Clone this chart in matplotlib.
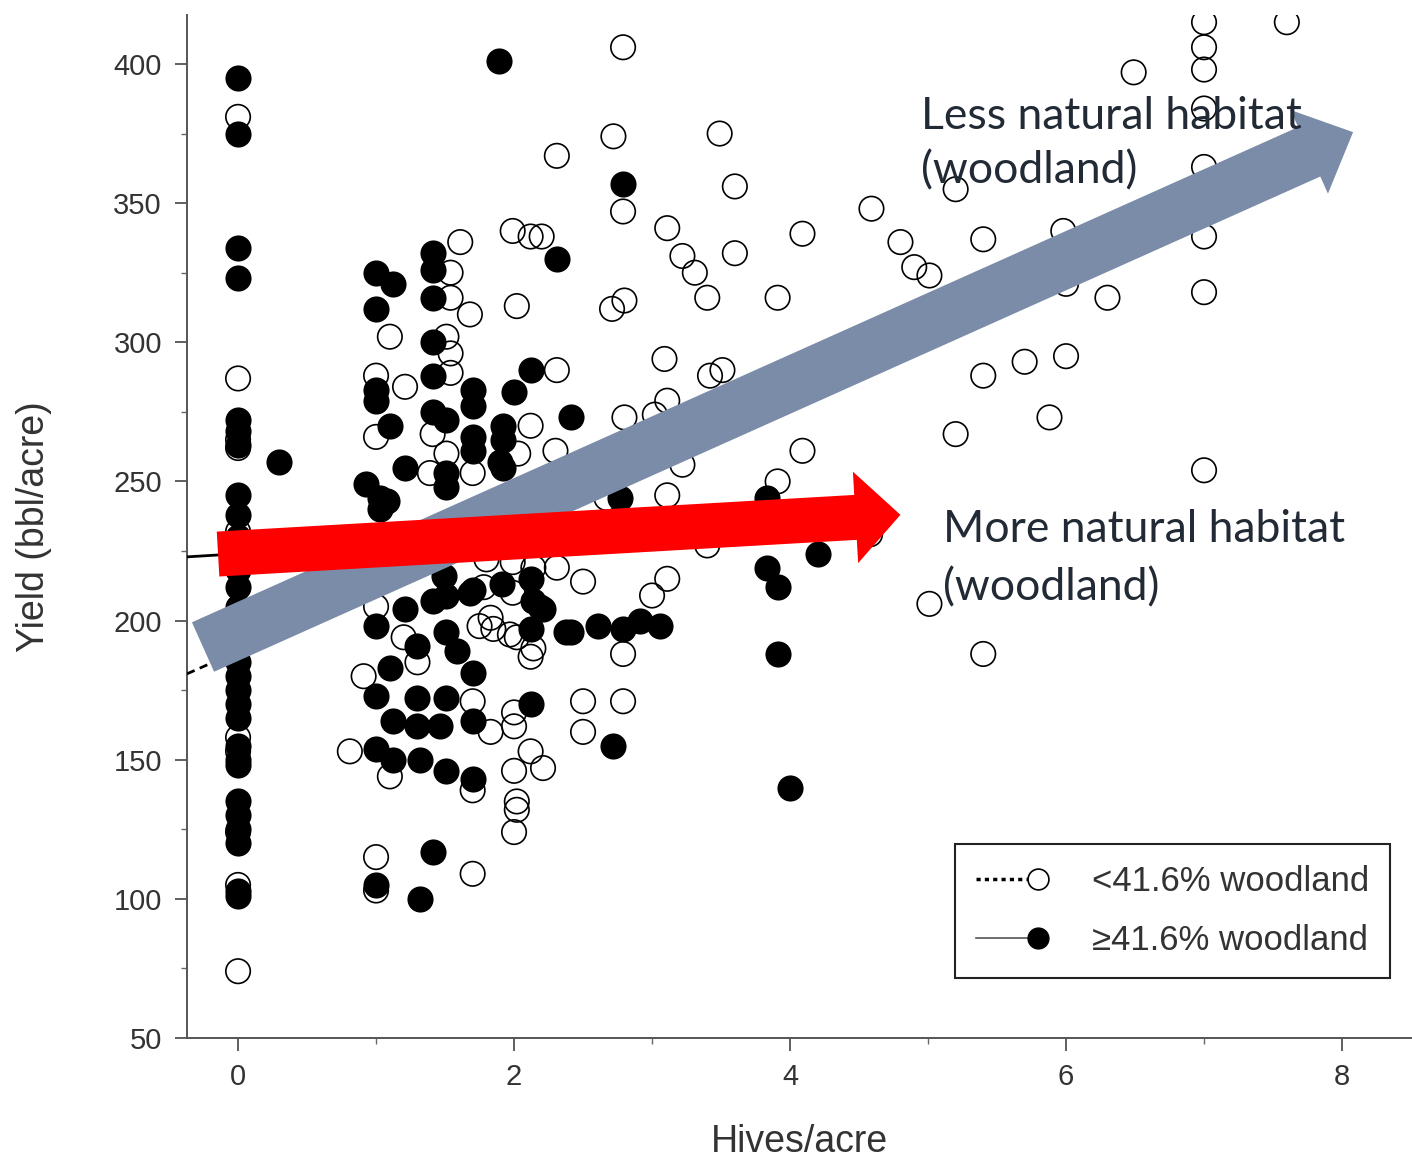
import numpy as np
import matplotlib
matplotlib.use("Agg")
import matplotlib.pyplot as plt
from matplotlib.lines import Line2D
from matplotlib.legend_handler import HandlerLine2DCompound
from matplotlib.ticker import MultipleLocator

# open circles: <41.6% woodland (hives/acre, yield)
open_pts = [
    (0, 381), (0, 287), (0, 265), (0, 262), (0, 232), (0, 195), (0, 190), (0, 158),
    (0, 153), (0, 124), (0, 105), (0, 74),
    (0.81, 153), (0.91, 180),
    (1.0, 115), (1.0, 103), (1.1, 144), (1.0, 205), (1.2, 194), (1.3, 185), (1.1, 302),
    (1.0, 288), (1.21, 284), (1.0, 266),
    (1.61, 336), (1.54, 325), (1.54, 316), (1.68, 310), (1.51, 302), (1.54, 296),
    (1.54, 289), (1.41, 267), (1.51, 260), (1.39, 253), (1.70, 253), (1.70, 171),
    (1.70, 139), (1.70, 109), (1.75, 198), (1.85, 197), (1.83, 160), (1.80, 222),
    (1.78, 212), (1.83, 201),
    (1.99, 340), (2.12, 338), (2.20, 338), (2.02, 313), (2.31, 290), (2.12, 270),
    (2.03, 260), (2.30, 261), (2.02, 194), (2.12, 187), (2.0, 167), (2.0, 162),
    (2.12, 153), (2.21, 147), (2.0, 146), (2.02, 135), (2.02, 132), (2.0, 124),
    (1.99, 221), (2.14, 219), (2.31, 219), (1.99, 210), (1.97, 195), (2.14, 190),
    (2.31, 367),
    (2.50, 214), (2.50, 171), (2.50, 160), (2.79, 171), (2.79, 188), (2.67, 244),
    (2.80, 273), (2.71, 312), (2.80, 315), (2.79, 406), (2.72, 374), (2.79, 347),
    (3.11, 341), (3.22, 331), (3.31, 325), (3.40, 316), (3.09, 294), (3.11, 279),
    (3.02, 274), (3.22, 256), (3.11, 245), (3.11, 215), (3.0, 209), (3.40, 227),
    (3.49, 375), (3.60, 356), (3.60, 332), (3.42, 288), (3.51, 290), (3.91, 316),
    (4.09, 339), (4.09, 282), (4.09, 261), (3.91, 250), (4.59, 348), (4.80, 336),
    (4.90, 327), (5.01, 324), (4.58, 231), (5.01, 206),
    (5.20, 355), (5.40, 337), (5.20, 267), (5.40, 288), (5.70, 293), (6.0, 295),
    (5.88, 273), (5.40, 188), (5.98, 340), (6.0, 321), (6.30, 316), (6.49, 397),
    (7.0, 415), (7.0, 406), (7.0, 398), (7.0, 384), (7.0, 363), (7.0, 338),
    (7.0, 318), (7.0, 254), (7.6, 415),
]

# filled circles: >=41.6% woodland
filled_pts = [
    (0, 395), (0, 375), (0, 334), (0, 323), (0, 272), (0, 268), (0, 263), (0, 245),
    (0, 238), (0, 230), (0, 225), (0, 218), (0, 212), (0, 205), (0, 198), (0, 185),
    (0, 180), (0, 175), (0, 170), (0, 165), (0, 155), (0, 150), (0, 148), (0, 135),
    (0, 130), (0, 125), (0, 120), (0, 103), (0, 101),
    (0.30, 257),
    (1.0, 325), (1.12, 321), (1.0, 312), (1.0, 283), (1.0, 279), (1.1, 270),
    (1.21, 255), (0.93, 249), (1.03, 244), (1.08, 243), (1.03, 240), (1.0, 198),
    (1.21, 204), (1.30, 191), (1.10, 183), (1.0, 173), (1.30, 172), (1.12, 164),
    (1.30, 162), (1.0, 154), (1.12, 150), (1.32, 150), (1.0, 105), (1.32, 100),
    (1.41, 117),
    (1.41, 332), (1.41, 326), (1.41, 316), (1.41, 300), (1.41, 288), (1.70, 283),
    (1.70, 277), (1.41, 275), (1.51, 272), (1.70, 266), (1.70, 261), (1.51, 253),
    (1.51, 248), (1.49, 216), (1.41, 207), (1.51, 196), (1.59, 189), (1.68, 210),
    (1.70, 181), (1.51, 172), (1.46, 162), (1.70, 164), (1.51, 146), (1.70, 143),
    (1.51, 209),
    (2.31, 330), (2.12, 290), (2.0, 282), (2.41, 273), (1.92, 270), (1.92, 265),
    (1.90, 257), (1.92, 255), (1.91, 213), (2.12, 215), (2.19, 205), (2.21, 204),
    (2.12, 197), (2.14, 207), (2.38, 196), (2.41, 196), (2.12, 170), (1.7, 211),
    (2.61, 198), (2.79, 197), (2.91, 200), (3.06, 198), (2.72, 155), (2.77, 244),
    (2.79, 357), (3.83, 244), (3.83, 219), (3.91, 212), (4.2, 224), (3.91, 188),
    (4.0, 140), (1.89, 401),
]

open_x = [p[0] for p in open_pts]
open_y = [p[1] for p in open_pts]
filled_x = [p[0] for p in filled_pts]
filled_y = [p[1] for p in filled_pts]

# fitted lines (mostly hidden under the arrows)
open_fit = (189, 22)     # intercept, slope
filled_fit = (224, 3)

# arrows (start, tip) in data coords
blue_start, blue_tip = (-0.254, 190.5), (8.08, 375.5)
red_start, red_tip = (-0.145, 223.9), (4.80, 238.0)

plt.rcParams['font.family'] = ['Liberation Sans', 'DejaVu Sans']

fig = plt.figure(figsize=(14.12, 11.63), dpi=100)
ax = fig.add_axes([187 / 1412, 125 / 1163, 1225 / 1412, 1023 / 1163])

ax.scatter(open_x, open_y, s=310, facecolors='none', edgecolors='black',
           linewidths=1.2, zorder=2)
ax.scatter(filled_x, filled_y, s=310, facecolors='black', edgecolors='black',
           linewidths=1.2, zorder=3)

xs = np.array([-0.37, 5.0])
ax.plot(xs, open_fit[0] + open_fit[1] * xs, color='black', lw=2,
        linestyle=(0, (3, 2)), zorder=4)
xs2 = np.array([-0.37, 4.2])
ax.plot(xs2, filled_fit[0] + filled_fit[1] * xs2, color='black', lw=2, zorder=4)

ax.annotate('', xy=blue_tip, xytext=blue_start, zorder=5,
            arrowprops=dict(arrowstyle='simple,head_length=3.46,head_width=6.6,tail_width=3.9',
                            mutation_scale=10, fc='#7a8ca8', ec='none',
                            shrinkA=0, shrinkB=0))
ax.annotate('', xy=red_tip, xytext=red_start, zorder=6,
            arrowprops=dict(arrowstyle='simple,head_length=3.24,head_width=6.6,tail_width=3.24',
                            mutation_scale=10, fc='#ff0000', ec='none',
                            shrinkA=0, shrinkB=0))

ax.text(4.95, 388.5, 'Less natural habitat\n(woodland)', fontsize=32,
        family=['Lato', 'DejaVu Sans'], color='#222a35', va='top', ha='left',
        linespacing=1.4, zorder=7)
ax.text(5.11, 240, 'More natural habitat\n(woodland)', fontsize=32,
        family=['Lato', 'DejaVu Sans'], color='#222a35', va='top', ha='left',
        linespacing=1.5, zorder=7)

ax.set_xlim(-0.37, 8.507)
ax.set_ylim(50, 417.6)
ax.xaxis.set_major_locator(MultipleLocator(2))
ax.xaxis.set_minor_locator(MultipleLocator(1))
ax.yaxis.set_major_locator(MultipleLocator(50))
ax.yaxis.set_minor_locator(MultipleLocator(25))
ax.tick_params(which='major', length=9, width=1.2, color='#444', labelsize=21,
               labelcolor='#333', pad=9)
ax.tick_params(which='minor', length=4.5, width=1.0, color='#666')

for side in ['top', 'right']:
    ax.spines[side].set_visible(False)
for side in ['left', 'bottom']:
    ax.spines[side].set_color('#555')
    ax.spines[side].set_linewidth(1.4)

ax.set_xlabel('Hives/acre', fontsize=27, color='#333', labelpad=24)
ax.set_ylabel('Yield (bbl/acre)', fontsize=27, color='#333', labelpad=44)


class MarkerAtEnd(HandlerLine2DCompound):
    def get_xdata(self, legend, xdescent, ydescent, width, height, fontsize):
        xdata = np.array([-xdescent, -xdescent + width])
        return xdata, np.array([-xdescent + width])


handles = [
    Line2D([], [], color='black', lw=2.5, linestyle=(0, (1.2, 1.2)), marker='o',
           markerfacecolor='white', markeredgecolor='black', markersize=15,
           markeredgewidth=1.2, label='<41.6% woodland'),
    Line2D([], [], color='#555', lw=1.2, marker='o', markerfacecolor='black',
           markeredgecolor='black', markersize=15, label='\u226541.6% woodland'),
]
leg = ax.legend(handles=handles, loc='lower right', bbox_to_anchor=(0.982, 0.0587),
                borderaxespad=0, fontsize=25, handlelength=1.8, handletextpad=1.55,
                labelspacing=0.75, borderpad=0.6, fancybox=False, framealpha=1,
                handler_map={Line2D: MarkerAtEnd()})
leg.get_frame().set_edgecolor('#222')
leg.get_frame().set_linewidth(1.5)
for t in leg.get_texts():
    t.set_color('#333')
leg.set_zorder(8)

fig.savefig('out.png', dpi=100)
